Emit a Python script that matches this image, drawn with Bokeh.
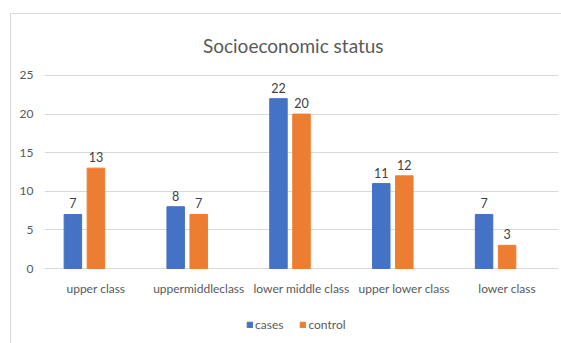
from bokeh.plotting import figure
from bokeh.models import (ColumnDataSource, FactorRange, Range1d, FixedTicker, Label,
                          Legend, LegendItem)
from bokeh.transform import dodge
from bokeh.core.properties import value
from bokeh.embed import file_html
from bokeh.resources import INLINE

categories = ["upper class", "uppermiddleclass", "lower middle class", "upper lower class", "lower class"]
cases = [7, 8, 22, 11, 7]
control = [13, 7, 20, 12, 3]
y_ticks = [0, 5, 10, 15, 20, 25]
title_text = "Socioeconomic status"

FONT = "Lato"
BLUE = "#4472C4"
ORANGE = "#ED7D31"
GREY = "#595959"

src = ColumnDataSource(dict(cat=categories, cases=cases, control=control,
                            cases_lbl=[str(v) for v in cases],
                            control_lbl=[str(v) for v in control],
                            zero=[0] * len(categories)))

# frame spans full canvas height; 0 sits at y=268px, 25 at y=75px
p = figure(width=561, height=343, x_range=FactorRange(factors=categories, range_padding=0),
           y_range=Range1d(-9.715, 34.715), output_backend="svg", toolbar_location=None,
           min_border_left=44, min_border_right=3, min_border_top=0, min_border_bottom=0)
p.outline_line_color = None
p.background_fill_color = "white"
p.border_fill_color = "white"
p.stylesheets = [":host::after { content: ''; position: absolute; left: 10px; top: 13px; "
                 "width: 550px; height: 329px; border-left: 1px solid #d9d9d9; "
                 "border-top: 1px solid #d9d9d9; pointer-events: none; }"]

bw = 0.17
r1 = p.vbar(x=dodge("cat", -0.224, range=p.x_range), top="cases", width=bw, source=src,
            fill_color=BLUE, line_color=BLUE)
r2 = p.vbar(x=dodge("cat", 0.0, range=p.x_range), top="control", width=bw, source=src,
            fill_color=ORANGE, line_color=ORANGE)

p.text(x=dodge("cat", -0.224, range=p.x_range), y="cases", text="cases_lbl", source=src,
       text_align="center", text_baseline="alphabetic", y_offset=-11,
       text_font=value(FONT), text_font_size="12.5px", text_color="#404040")
p.text(x=dodge("cat", 0.0, range=p.x_range), y="control", text="control_lbl", source=src,
       text_align="center", text_baseline="alphabetic", y_offset=-11,
       text_font=value(FONT), text_font_size="12.5px", text_color="#404040")

# category labels under the baseline
p.text(x="cat", y="zero", text="cat", source=src, text_align="center",
       text_baseline="middle", y_offset=20,
       text_font=value(FONT), text_font_size="12px", text_color=GREY)

# axes
p.xaxis.visible = False
p.xgrid.grid_line_color = None
p.ygrid.grid_line_color = "#d9d9d9"
p.ygrid.grid_line_width = 1
p.yaxis.ticker = FixedTicker(ticks=y_ticks)
ax = p.yaxis[0]
ax.axis_line_color = None
ax.major_tick_line_color = None
ax.minor_tick_line_color = None
ax.major_tick_out = 0
ax.major_tick_in = 0
ax.major_label_text_font = FONT
ax.major_label_text_font_size = "12px"
ax.major_label_text_color = GREY
ax.major_label_standoff = 11

# title
p.add_layout(Label(x=2.42, y=28.9, text=title_text, text_align="center", text_baseline="middle",
                   text_font=FONT, text_font_size="19px", text_color=GREY))

legend = Legend(items=[LegendItem(label="cases", renderers=[r1]),
                       LegendItem(label="control", renderers=[r2])],
                location=(202, 11), orientation="horizontal",
                glyph_width=7, glyph_height=7, label_standoff=2, spacing=16, padding=0,
                margin=0, border_line_color=None, background_fill_alpha=0,
                label_text_font=FONT, label_text_font_size="12px", label_text_color=GREY)
p.add_layout(legend, "center")

open("out.html", "w").write(file_html(p, INLINE))
